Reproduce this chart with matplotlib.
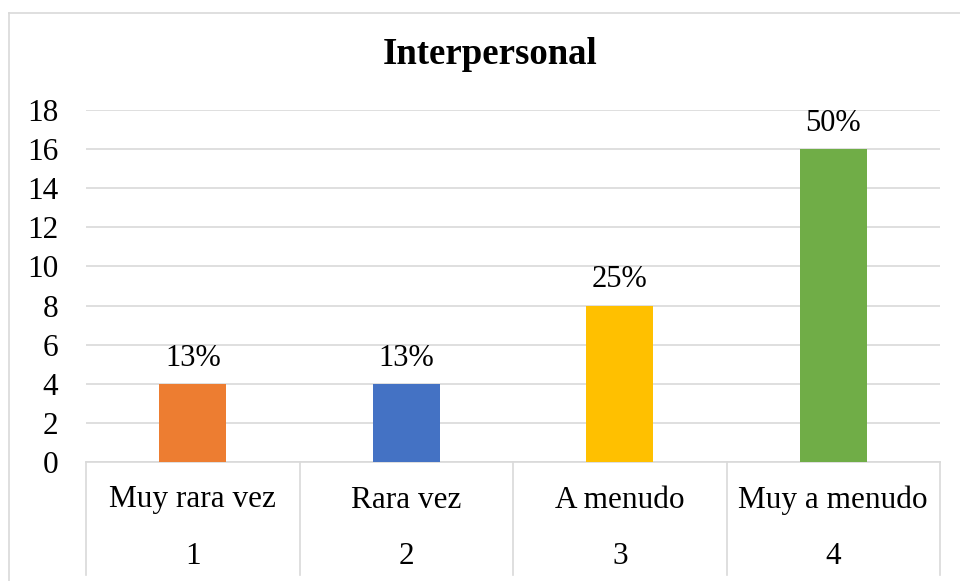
import matplotlib.pyplot as plt
from matplotlib.lines import Line2D
from matplotlib.transforms import blended_transform_factory

plt.rcParams['font.family'] = ['Liberation Serif', 'DejaVu Serif']

categories = ['Muy rara vez', 'Rara vez', 'A menudo', 'Muy a menudo']
codes = ['1', '2', '3', '4']
values = [4, 4, 8, 16]
labels = ['13%', '13%', '25%', '50%']
colors = ['#ED7D31', '#4472C4', '#FFC000', '#70AD47']
yticks = list(range(0, 19, 2))

W, H = 960, 581
fig = plt.figure(figsize=(W / 100, H / 100), dpi=100)

# outer chart frame (only top and left edge visible)
grey = '#D9D9D9'
fig.add_artist(Line2D([9 / W, 9 / W], [0, 1 - 13 / H], color=grey, lw=1.2))
fig.add_artist(Line2D([9 / W, 1], [1 - 13 / H, 1 - 13 / H], color=grey, lw=1.2))

left, right, top, bottom = 86, 940, 110, 462
ax = fig.add_axes([left / W, 1 - bottom / H, (right - left) / W, (bottom - top) / H])

x = range(len(values))
ax.bar(x, values, width=0.315, color=colors, zorder=3)
for xi, v, lab in zip(x, values, labels):
    ax.annotate(lab, (xi, v), xytext=(0, 8), textcoords='offset points',
                ha='center', va='bottom', fontsize=22)

ax.set_xlim(-0.5, len(values) - 0.5)
ax.set_ylim(0, 18)
ax.set_yticks(yticks)
ax.tick_params(axis='y', length=0, pad=20, labelsize=22.5)
ax.set_xticks([])
ax.yaxis.grid(True, color=grey, lw=1.2, zorder=0)
for s in ax.spines.values():
    s.set_visible(False)

# multi-level category axis
tr = blended_transform_factory(ax.transData, ax.transAxes)
sep_bottom = -(575 - bottom) / (bottom - top)
ax.add_line(Line2D([-0.5, len(values) - 0.5], [0, 0], transform=tr, color=grey, lw=1.2, clip_on=False))
for b in [i - 0.5 for i in range(len(values) + 1)]:
    ax.add_line(Line2D([b, b], [0, sep_bottom], transform=tr, color=grey, lw=1.2, clip_on=False))
for xi, cat, code in zip(x, categories, codes):
    ax.text(xi, -(500 - bottom) / (bottom - top), cat, transform=tr, ha='center', va='center',
            fontsize=22.5, clip_on=False)
    ax.text(xi, -(557 - bottom) / (bottom - top), code, transform=tr, ha='center', va='center',
            fontsize=22.5, clip_on=False)

fig.text(490 / W, 1 - 55 / H, 'Interpersonal', ha='center', va='center',
         fontsize=26.5, fontweight='bold')

fig.savefig('out.png', dpi=100)
